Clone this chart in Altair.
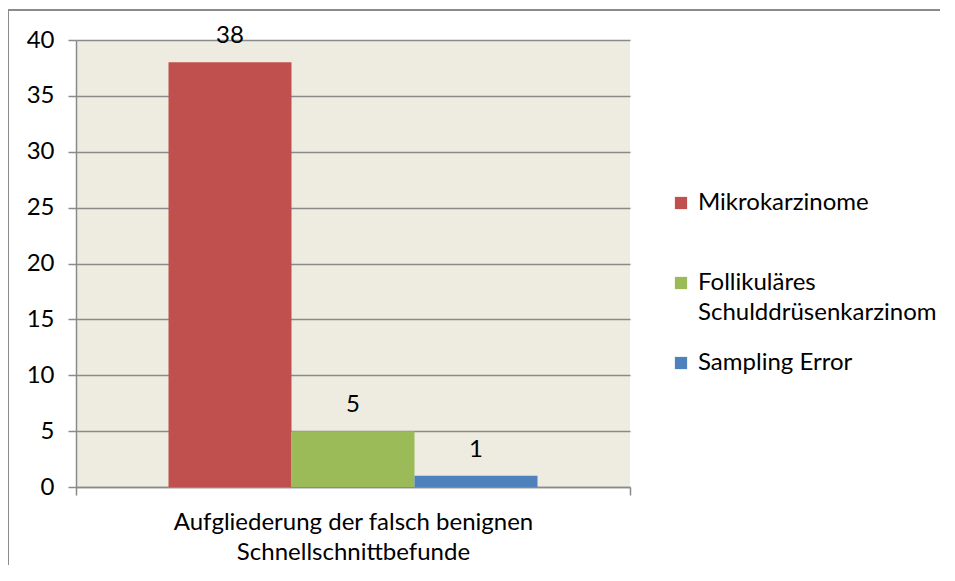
import altair as alt
import pandas as pd

category = "Aufgliederung der falsch benignen|Schnellschnittbefunde"
series = ["Mikrokarzinome", "Follikuläres|Schulddrüsenkarzinom", "Sampling Error"]
values = [38, 5, 1]
colors = ["#C0504D", "#9BBB59", "#4F81BD"]
y_ticks = [0, 5, 10, 15, 20, 25, 30, 35, 40]

df = pd.DataFrame({"cat": [category] * 3, "series": series, "value": values})

FONT = "Lato"
FS = 24
GRID = "#8a8a8a"

base = alt.Chart(df).encode(
    x=alt.X("cat:N", title=None,
            scale=alt.Scale(paddingInner=0, paddingOuter=0),
            axis=alt.Axis(labelAngle=0, tickBand="extent", labelExpr="split(datum.label, '|')",
                          labelFont=FONT, labelFontSize=FS, labelColor="black", labelLineHeight=30,
                          labelPadding=15, labelLimit=0, domainColor=GRID, domainWidth=1.5,
                          tickColor=GRID, tickWidth=1.5, tickSize=8, grid=False)),
    xOffset=alt.XOffset("series:N", sort=series,
                        scale=alt.Scale(paddingInner=0, paddingOuter=0.752)),
)

bars = base.mark_bar().encode(
    y=alt.Y("value:Q", title=None,
            scale=alt.Scale(domain=[0, 40], nice=False),
            axis=alt.Axis(values=y_ticks, labelFont=FONT, labelFontSize=FS, labelColor="black",
                          labelPadding=14, tickSize=8, tickColor=GRID, tickWidth=1.5,
                          domainColor=GRID, domainWidth=1.5, gridColor=GRID, gridWidth=1.5)),
    color=alt.Color("series:N", sort=series, title=None,
                    scale=alt.Scale(domain=series, range=colors),
                    legend=alt.Legend(orient="none", legendX=593, legendY=151,
                                      labelExpr="indexof(datum.label, '|') >= 0 ? split(datum.label, '|') : [datum.label, '']",
                                      labelFont=FONT, labelFontSize=FS, labelColor="black",
                                      labelLimit=0, symbolType="square", symbolSize=150,
                                      symbolStrokeWidth=0, rowPadding=26, labelOffset=5)),
)

labels = base.mark_text(baseline="alphabetic", dy=-19, font=FONT, fontSize=FS, color="black").encode(
    y=alt.Y("value:Q"),
    text=alt.Text("value:Q"),
)

frame_left = alt.Chart(df).mark_rule(color=GRID, strokeWidth=1.5, clip=False).encode(
    x=alt.value(-68), y=alt.value(-30), y2=alt.value(600))
frame_top = alt.Chart(df).mark_rule(color=GRID, strokeWidth=1.5, clip=False).encode(
    x=alt.value(-68), x2=alt.value(900), y=alt.value(-30))

chart = alt.layer(frame_left, frame_top, bars, labels).properties(
    width=554, height=447,
    autosize=alt.AutoSizeParams(type="none"),
    padding={"left": 68, "top": 32, "right": 310, "bottom": 78},
).configure(
    background="white",
    view=alt.ViewConfig(fill="#EEECE1", stroke=None),
    style={"guide-label": {"lineHeight": 30}},
)

chart.save("out.html", embed_options={"renderer": "svg", "actions": False})
